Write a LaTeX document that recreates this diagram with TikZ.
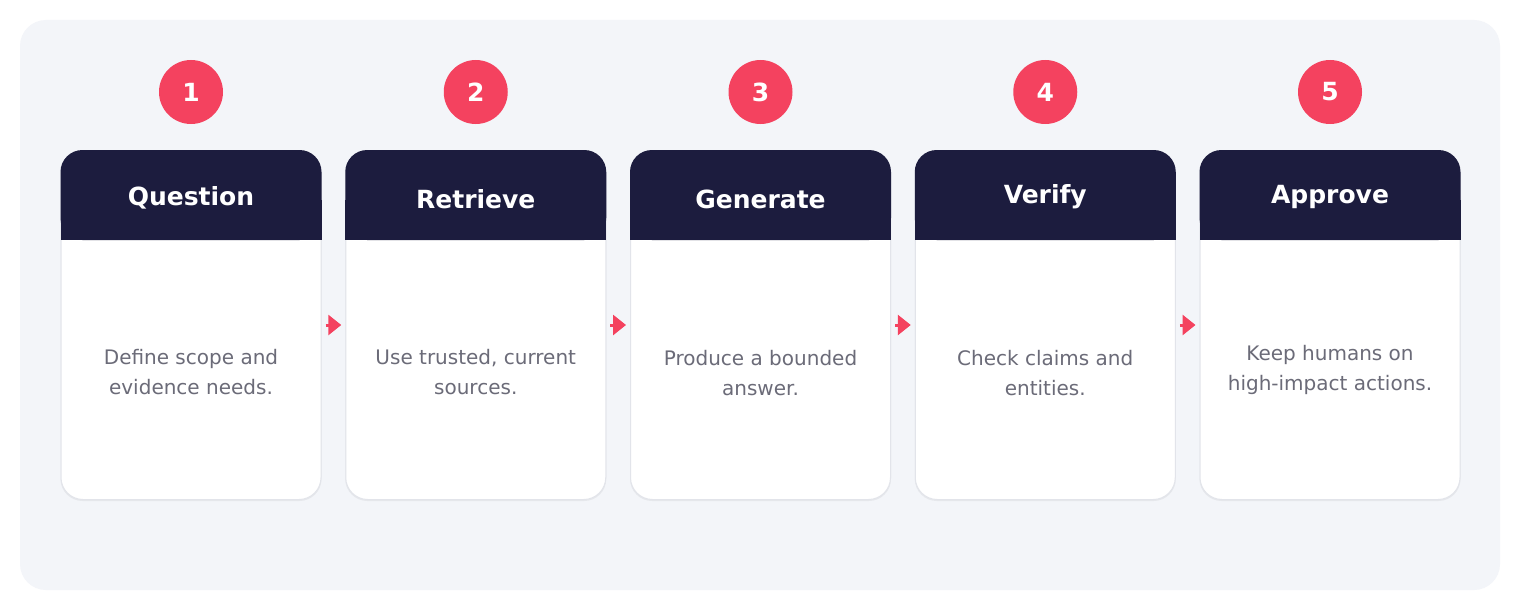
\documentclass[tikz,border=0pt]{standalone}
\usepackage{fontspec}
\setmainfont{DejaVu Sans}
\usetikzlibrary{arrows.meta}
\definecolor{panel}{HTML}{F3F5F9}
\definecolor{navy}{HTML}{1C1C3E}
\definecolor{rose}{HTML}{F4425F}
\definecolor{bodytxt}{HTML}{6B6B78}
\definecolor{cardline}{HTML}{E2E4EA}
\tikzset{
  cardbox/.style={draw=cardline, line width=1pt, fill=white, rounded corners=22pt,
    minimum width=260pt, minimum height=349pt, anchor=north west, inner sep=0pt},
  numdot/.style={circle, fill=rose, minimum size=64pt, inner sep=0pt, text=white,
    font=\fontsize{25}{30}\selectfont\bfseries},
  hdrtext/.style={text=white, font=\fontsize{25}{28}\selectfont\bfseries},
  bodytext/.style={text=bodytxt, align=center, font=\fontsize{20}{30}\selectfont},
  flowarrow/.style={draw=rose, line width=3pt, -{Triangle[length=13pt,width=20pt]},
    shorten <=4pt, shorten >=4pt},
}
\begin{document}
\begin{tikzpicture}[x=1pt,y=-1pt]
\useasboundingbox (0,0) rectangle (1520,610);
\fill[white] (0,0) rectangle (1520,610);
\fill[panel, rounded corners=26pt] (20,20) rectangle (1500,590);
\foreach \i/\num/\hd/\hy/\bd/\by in {
  0/1/Question/198/{Define scope and\\evidence needs.}/372,
  1/2/Retrieve/199/{Use trusted, current\\sources.}/372,
  2/3/Generate/199/{Produce a bounded\\answer.}/373,
  3/4/Verify/197/{Check claims and\\entities.}/373,
  4/5/Approve/197/{Keep humans on\\high-impact actions.}/370}{
  \pgfmathsetmacro{\xl}{60.5+284.75*\i}
  \pgfmathsetmacro{\xc}{\xl+130.5}
  \fill[black, opacity=0.05, rounded corners=22pt] (\xl,153) rectangle (\xl+261,501);
  \node[cardbox] (card\num) at (\xl,150) {};
  \fill[navy, rounded corners=22pt] (\xl,150) rectangle (\xl+261,240);
  \fill[navy] (\xl,200) rectangle (\xl+261,240);
  \node[hdrtext] (hdr\num) at (\xc,\hy) {\hd};
  \node[bodytext] (body\num) at (\xc,\by) {\bd};
  \node[numdot] (num\num) at (\xc,92) {\num};
}
\draw[flowarrow] (card1.east) -- (card2.west);
\draw[flowarrow] (card2.east) -- (card3.west);
\draw[flowarrow] (card3.east) -- (card4.west);
\draw[flowarrow] (card4.east) -- (card5.west);
\end{tikzpicture}
\end{document}
